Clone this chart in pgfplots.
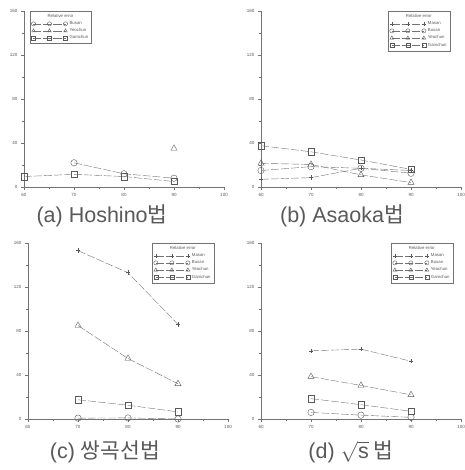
\documentclass[border=0pt]{standalone}
\usepackage{fontspec}
\setmainfont{Liberation Sans}
\newfontfamily\kr{Noto Sans CJK KR}
\usepackage{pgfplots}
\pgfplotsset{compat=1.18}
\definecolor{ln}{gray}{0.45}
\definecolor{mk}{gray}{0.35}
\definecolor{tx}{gray}{0.35}
\pgfplotsset{
  panel/.style={
    scale only axis, width=200pt, height=176pt,
    xmin=60, xmax=100, ymin=0, ymax=160,
    axis x line*=bottom, axis y line*=left,
    axis line style={-, ln, thin},
    xtick={60,70,80,90,100}, ytick={0,40,80,120,160},
    minor xtick={65,75,85,95}, minor ytick={20,60,100,140},
    tick align=outside, major tick length=3pt, minor tick length=2pt,
    every tick/.style={ln, thin},
    tick label style={font=\fontsize{4.5}{5}\selectfont, text=tx},
    /pgf/number format/assume math mode=true,
    legend style={draw=ln, line width=0.4pt, font=\fontsize{4.3}{5}\selectfont, text=tx,
      inner sep=1.2pt, row sep=-1.4pt, cells={anchor=west}},
    legend image code/.code={\draw[mark repeat=1,#1] plot coordinates {(0pt,0pt) (16pt,0pt) (32pt,0pt)};},
    legend image post style={mark size=2.1pt},
  },
  masan/.style={ln, thin, dash pattern=on 8pt off 2pt, mark=+, mark size=2.2pt, mark options={solid, mk}},
  busan/.style={ln, thin, dash pattern=on 8pt off 2pt, mark=o, mark size=3.2pt, mark options={solid, mk}},
  yeochun/.style={ln, thin, dash pattern=on 8pt off 2pt, mark=triangle, mark size=3.6pt, mark options={solid, mk}},
  gamchun/.style={ln, thin, dash pattern=on 8pt off 2pt, mark=square, mark size=3.2pt, mark options={solid, mk}},
}
\newcommand{\legtitle}{\addlegendimage{empty legend}\addlegendentry{\hspace*{-22pt}Relative error}}
\begin{document}
\begin{tikzpicture}
\path[use as bounding box] (0,0) rectangle (464pt,470pt);
% (a)
\begin{axis}[panel, at={(24pt,283pt)}, anchor=south west,
  legend style={at={(0.03,1)}, anchor=north west}]
\legtitle
\addplot[busan] coordinates {(70,22) (80,12) (90,8)}; \addlegendentry{Busan}
\addplot[yeochun] coordinates {(90,35)}; \addlegendentry{Yeochun}
\addplot[gamchun] coordinates {(60,9.5) (70,11.5) (80,9.5) (90,5)}; \addlegendentry{Gamchun}
\end{axis}
% (b)
\begin{axis}[panel, at={(261pt,283pt)}, anchor=south west,
  legend style={at={(0.945,1)}, anchor=north east}]
\legtitle
\addplot[masan] coordinates {(60,7) (70,8.5) (80,17) (90,15)}; \addlegendentry{Masan}
\addplot[busan] coordinates {(60,15) (70,18.5) (80,17) (90,12.5)}; \addlegendentry{Busan}
\addplot[yeochun] coordinates {(60,21.5) (70,20.5) (80,11) (90,4)}; \addlegendentry{Yeochun}
\addplot[gamchun] coordinates {(60,37.5) (70,32) (80,24.5) (90,16)}; \addlegendentry{Gamchun}
\end{axis}
% (c)
\begin{axis}[panel, at={(28pt,51pt)}, anchor=south west,
  legend style={at={(0.93,1)}, anchor=north east}]
\legtitle
\addplot[masan] coordinates {(70,153) (80,133) (90,86)}; \addlegendentry{Masan}
\addplot[busan] coordinates {(70,0.8) (80,1) (90,0)}; \addlegendentry{Busan}
\addplot[yeochun] coordinates {(70,85) (80,55) (90,32)}; \addlegendentry{Yeochun}
\addplot[gamchun] coordinates {(70,17.5) (80,12.5) (90,6.5)}; \addlegendentry{Gamchun}
\end{axis}
% (d)
\begin{axis}[panel, at={(261pt,51pt)}, anchor=south west,
  legend style={at={(0.96,1)}, anchor=north east}]
\legtitle
\addplot[masan] coordinates {(70,62) (80,63.5) (90,52.5)}; \addlegendentry{Masan}
\addplot[busan] coordinates {(70,6) (80,3.5) (90,1.5)}; \addlegendentry{Busan}
\addplot[yeochun] coordinates {(70,38.5) (80,30.5) (90,22)}; \addlegendentry{Yeochun}
\addplot[gamchun] coordinates {(70,18.5) (80,13) (90,7)}; \addlegendentry{Gamchun}
\end{axis}
\node[font=\fontsize{21.5}{24}\selectfont, text=tx] at (102pt,254pt) {(a)\hspace{6pt}Hoshino{\kr 법}};
\node[font=\fontsize{21.5}{24}\selectfont, text=tx] at (342pt,254pt) {(b)\hspace{6pt}Asaoka{\kr 법}};
\node[font=\fontsize{21.5}{24}\selectfont, text=tx] at (105pt,18pt) {(c)\hspace{6pt}{\kr 쌍곡선법}};
\node[font=\fontsize{21.5}{24}\selectfont, text=tx] at (351pt,18pt) {(d)\hspace{6pt}$\sqrt{\mathrm{s}}$\hspace{5pt}{\kr 법}};
\end{tikzpicture}
\end{document}
